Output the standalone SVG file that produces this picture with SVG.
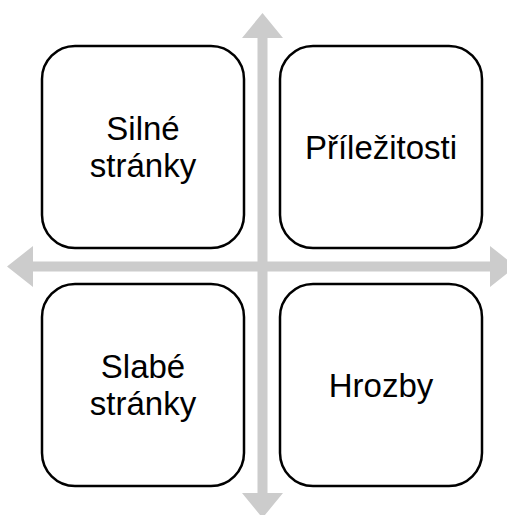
<svg xmlns="http://www.w3.org/2000/svg" width="507" height="515" viewBox="0 0 507 515">
<style>
.box{fill:#ffffff;stroke:#000000;stroke-width:2.5}
.lbl{font-family:"Liberation Sans",Arial,sans-serif;font-size:33px;fill:#000000;text-anchor:middle}
.arr{fill:#cccccc}
</style>
<rect width="507" height="515" fill="#ffffff"/>
<g id="connectors">
<polygon class="arr" points="262.5,13 283,38 267.5,38 267.5,493 283,493 262.5,518 242,493 257.5,493 257.5,38 242,38"/>
<polygon class="arr" points="7,266.5 33,246 33,261.5 490,261.5 490,246 516,266.5 490,287 490,271.5 33,271.5 33,287"/>
</g>
<g id="silne">
<rect class="box" x="42" y="46" width="202" height="202" rx="33" ry="33"/>
<text class="lbl" x="143" y="140">Silné</text>
<text class="lbl" x="143" y="177">stránky</text>
</g>
<g id="prilezitosti">
<rect class="box" x="280" y="46" width="202" height="202" rx="33" ry="33"/>
<text class="lbl" x="381" y="159">Příležitosti</text>
</g>
<g id="slabe">
<rect class="box" x="42" y="284" width="202" height="202" rx="33" ry="33"/>
<text class="lbl" x="143" y="378">Slabé</text>
<text class="lbl" x="143" y="415">stránky</text>
</g>
<g id="hrozby">
<rect class="box" x="280" y="284" width="202" height="202" rx="33" ry="33"/>
<text class="lbl" x="381" y="397">Hrozby</text>
</g>
</svg>
